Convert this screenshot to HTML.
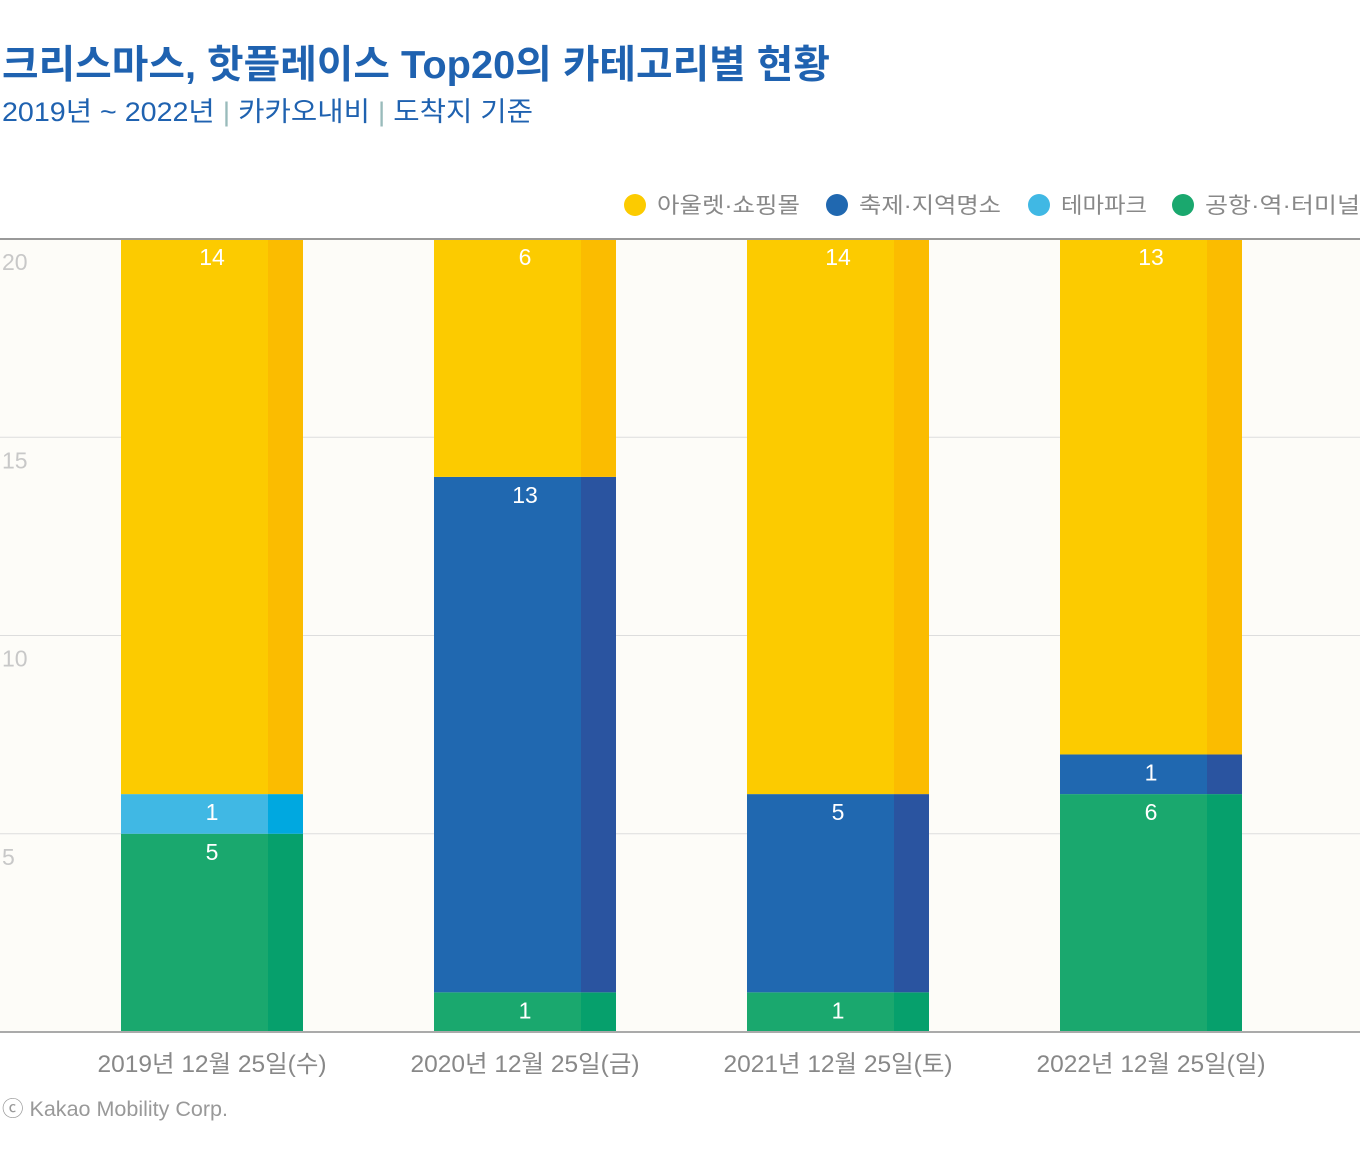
<!DOCTYPE html>
<html><head><meta charset="utf-8">
<style>
body{margin:0;background:#fff;width:1360px;height:1164px;overflow:hidden;font-family:"Liberation Sans","Noto Sans CJK KR",sans-serif;}
svg text{font-family:"Liberation Sans","Noto Sans CJK KR",sans-serif;}
</style></head>
<body>
<svg id="chart" width="1360" height="1164">
<text x="2" y="78" font-size="39" font-weight="bold" fill="#1f62b0" textLength="828" lengthAdjust="spacingAndGlyphs">크리스마스, 핫플레이스 Top20의 카테고리별 현황</text>
<text x="2" y="121" font-size="27" fill="#1f62b0" textLength="531" lengthAdjust="spacingAndGlyphs">2019년 ~ 2022년 <tspan fill="#9bb">|</tspan> 카카오내비 <tspan fill="#9bb">|</tspan> 도착지 기준</text>
<rect x="0" y="239" width="1360" height="793" fill="#fdfcf8"/>
<g id="grid"></g>
<g id="bars"></g>
<g id="legend"></g>
<text x="2" y="1116" font-size="21" fill="#999" textLength="226" lengthAdjust="spacingAndGlyphs">ⓒ Kakao Mobility Corp.</text>
</svg>
<script>
const categories=["2019년 12월 25일(수)","2020년 12월 25일(금)","2021년 12월 25일(토)","2022년 12월 25일(일)"];
const seriesNames=["공항·역·터미널","테마파크","축제·지역명소","아울렛·쇼핑몰"];
const green=[5,1,1,6];
const lightBlue=[1,0,0,0];
const blue=[0,13,5,1];
const yellow=[14,6,14,13];
const yTicks=[5,10,15,20];
const colors=[["#1aa86e","#06a06c"],["#40b8e4","#00a8e0"],["#2068b0","#2a54a0"],["#fccb00","#fbbc00"]];
const legendOrder=[3,2,1,0];
const svgNS="http://www.w3.org/2000/svg";
const y0=1032,yTop=239,ymax=20;
const y=v=>y0-v*(y0-yTop)/ymax;
const cx=i=>212+i*313;
function mk(t,a,p){const e=document.createElementNS(svgNS,t);for(const k in a)e.setAttribute(k,a[k]);p.appendChild(e);return e;}
const grid=document.getElementById('grid');
yTicks.forEach(t=>{
  if(t<20){const l=mk('line',{x1:0,x2:1360,y1:y(t),y2:y(t),stroke:'#ddd','stroke-width':1},grid);
  
  }
  const tx=mk('text',{x:2,y:y(t)+31,'font-size':23,fill:'#c8c8c8'},grid);tx.textContent=t;
  
  
});
const bars=document.getElementById('bars');
const series=[green,lightBlue,blue,yellow];
categories.forEach((c,i)=>{
  let acc=0;
  series.forEach((s,k)=>{
    const v=s[i];if(!v)return;
    const top=y(acc+v),bot=y(acc);
    const r=mk('rect',{x:cx(i)-91,y:top,width:147,height:bot-top,fill:colors[k][0]},bars);
    
    
    const r2=mk('rect',{x:cx(i)+56,y:top,width:35,height:bot-top,fill:colors[k][1]},bars);
    
    
    const t=mk('text',{x:cx(i),y:top+26,'font-size':23,fill:'#fff','text-anchor':'middle'},bars);t.textContent=v;
    
    
    acc+=v;
  });
  const xl=mk('text',{x:cx(i),y:1072,'font-size':24,fill:'#888','text-anchor':'middle',textLength:229,lengthAdjust:'spacingAndGlyphs'},bars);xl.textContent=c;
  
  
});
mk('line',{x1:0,x2:1360,y1:239,y2:239,stroke:'#999','stroke-width':2},bars);
mk('line',{x1:0,x2:1360,y1:1032,y2:1032,stroke:'#aaa','stroke-width':2},bars);
const lg=document.getElementById('legend');
const lx=[635,837,1039,1183];
const lw=[143,142,86,155];
legendOrder.forEach((k,j)=>{
  const c=mk('circle',{cx:lx[j],cy:205,r:11,fill:colors[k][0]},lg);
  
  
  const t=mk('text',{x:lx[j]+22,y:213,'font-size':22,fill:'#888',textLength:lw[j],lengthAdjust:'spacingAndGlyphs'},lg);t.textContent=seriesNames[k];
  
  
});
</script>
</body></html>
